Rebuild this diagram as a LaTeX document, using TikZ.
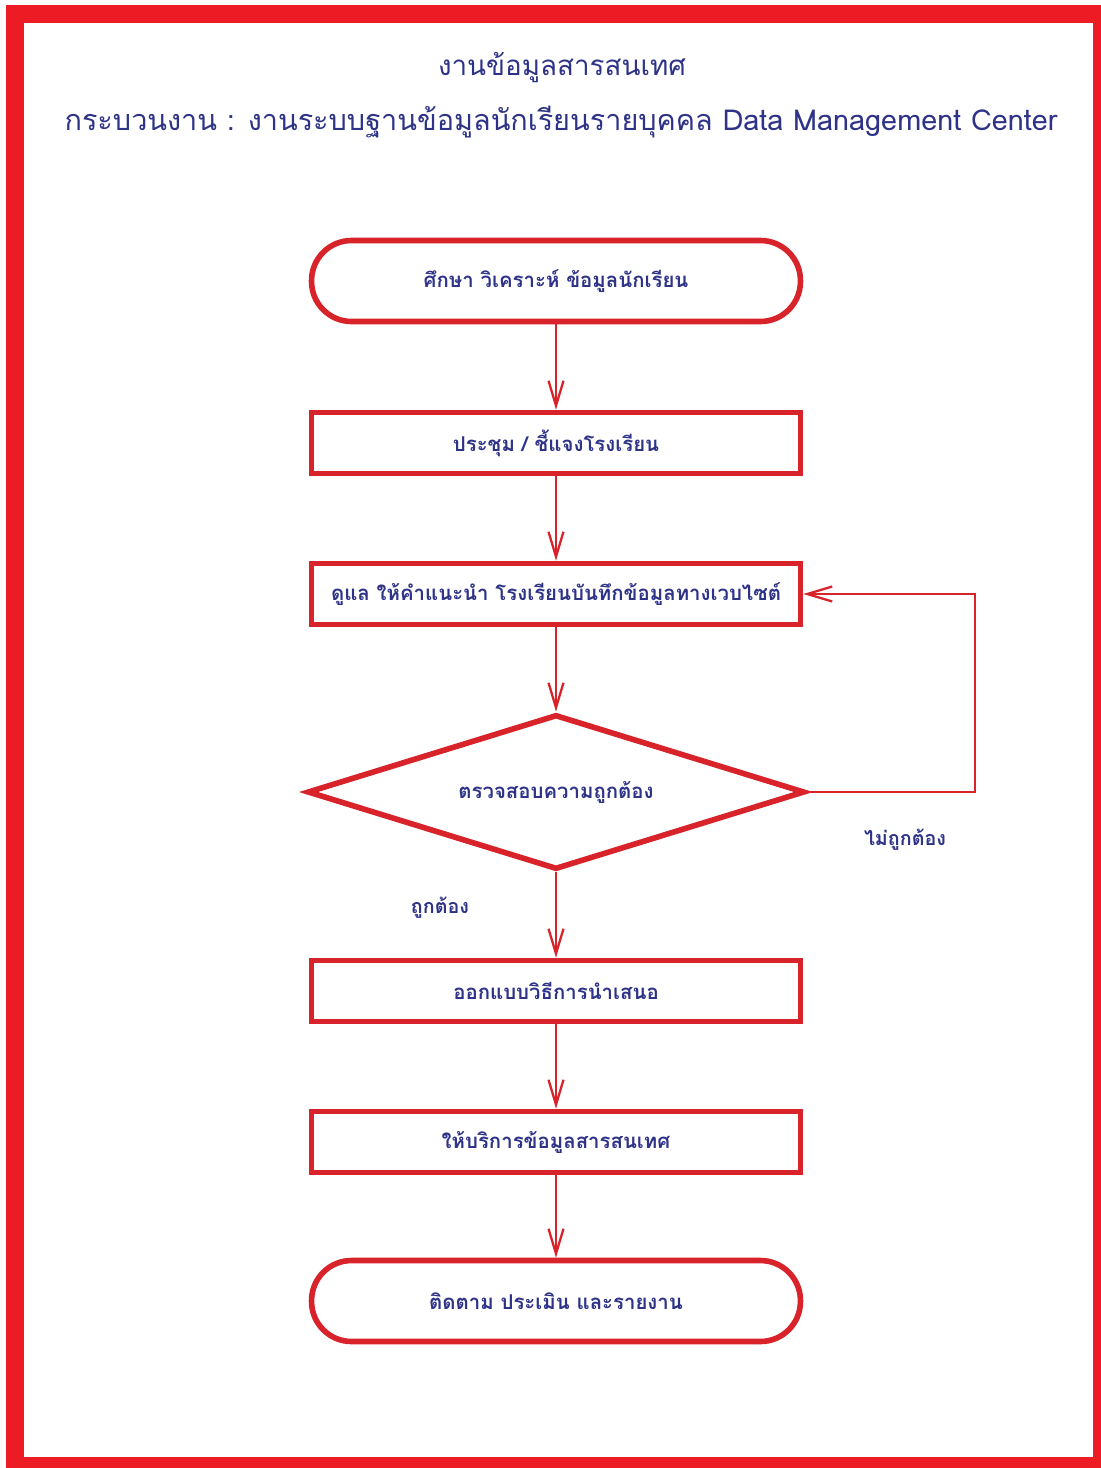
\documentclass[tikz,border=0pt]{standalone}
\usepackage{fontspec}
\setmainfont[Script=Thai]{Loma}
\usetikzlibrary{shapes.geometric,arrows.meta}
\definecolor{framered}{HTML}{ED1C24}
\definecolor{boxred}{HTML}{D9232B}
\definecolor{textblue}{HTML}{2E3388}
\begin{document}
\begin{tikzpicture}[x=0.02cm,y=-0.02cm,
    title/.style={text=textblue, font=\fontsize{16.4}{19}\selectfont, inner sep=0pt},
    passo/.style={draw=boxred, line width=3.2pt, minimum width=9.78cm, minimum height=1.22cm,
      text=textblue, font=\fontsize{11.6}{14}\selectfont\bfseries, inner sep=0pt},
    terminal/.style={passo, minimum height=1.62cm, rounded corners=0.8cm},
    decisao/.style={passo, diamond, aspect=3.2, minimum width=9.95cm, minimum height=3.1cm},
    rotulo/.style={text=textblue, font=\fontsize{11.2}{14}\selectfont\bfseries, inner sep=0pt},
    fluxo/.style={draw=boxred, line width=1.3pt, -{Straight Barb[length=0.5cm, width=0.3cm]}}]
  % Moldura
  \useasboundingbox (0,0) rectangle (1101,1468);
  \fill[white] (0,0) rectangle (1101,1468);
  \fill[framered] (6,5) rectangle (1101,1468);
  \fill[white] (24,23) rectangle (1093,1457);
  % Titulo
  \node[title, font=\fontsize{15.8}{19}\selectfont] (unit) at (562,68) {งานข้อมูลสารสนเทศ};
  \node[title] (process) at (561,122) {กระบวนงาน : งานระบบฐานข้อมูลนักเรียนรายบุคคล Data Management Center};
  % Etapas
  \node[terminal] (study) at (556,281) {ศึกษา วิเคราะห์ ข้อมูลนักเรียน};
  \node[passo] (meeting) at (556,443) {ประชุม / ชี้แจงโรงเรียน};
  \node[passo] (guide) at (556,594) {ดูแล ให้คำแนะนำ โรงเรียนบันทึกข้อมูลทางเวบไซต์};
  \node[decisao] (check) at (556,792) {ตรวจสอบความถูกต้อง};
  \node[passo] (design) at (556,991) {ออกแบบวิธีการนำเสนอ};
  \node[passo] (service) at (556,1142) {ให้บริการข้อมูลสารสนเทศ};
  \node[terminal] (report) at (556,1301) {ติดตาม ประเมิน และรายงาน};
  % Rotulos
  \node[rotulo] (wrong) at (905,840) {ไม่ถูกต้อง};
  \node[rotulo] (right) at (440,908) {ถูกต้อง};
  % Setas
  \draw[fluxo] (study) -- (meeting);
  \draw[fluxo] (meeting) -- (guide);
  \draw[fluxo] (guide) -- (check);
  \draw[fluxo] (check) -- (design);
  \draw[fluxo] (design) -- (service);
  \draw[fluxo] (service) -- (report);
  \coordinate (loop) at (975,792);
  \draw[fluxo] (check.east) -- (loop) |- (guide.east);
\end{tikzpicture}
\end{document}
